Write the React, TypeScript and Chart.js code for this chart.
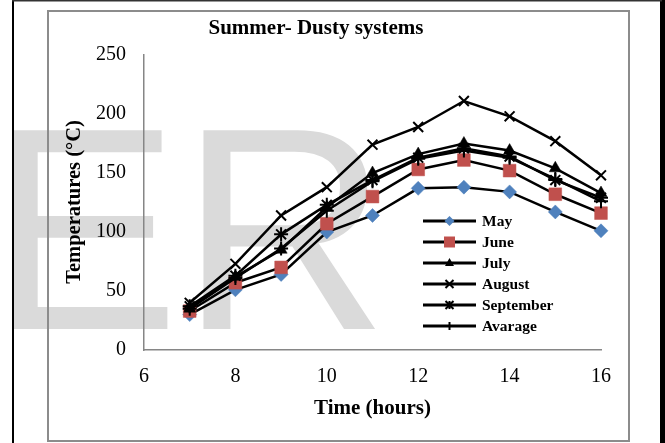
import React, { useEffect, useRef } from "react";
import { Chart, registerables } from "chart.js";

Chart.register(...registerables);

const hours = [7, 8, 9, 10, 11, 12, 13, 14, 15, 16];
const may = [30, 51, 64, 100, 114, 137, 138, 134, 117, 101];
const june = [33, 57, 70, 107, 130, 153, 161, 152, 132, 116];
const july = [35, 62, 85, 121, 150, 166, 175, 169, 154, 133];
const august = [40, 73, 114, 138, 174, 189, 211, 198, 177, 148];
const september = [37, 63, 98, 123, 144, 163, 171, 164, 144, 129];
const average = [35, 61, 86, 118, 143, 162, 169, 163, 145, 126];

const seriesNames = ["May", "June", "July", "August", "September", "Avarage"];
const seriesValues = [may, june, july, august, september, average];
const seriesStyles = ["rectRot", "rect", "triangle", "crossRot", "star", "cross"];
const seriesColors = ["#4F81BD", "#C0504D", "#000000", "#000000", "#000000", "#000000"];
const seriesRadius = [7, 9, 7, 7, 7, 7];

const chartTitle = "Summer- Dusty systems";
const xTitle = "Time (hours)";
const yTitle = "Temperatures (°C)";

const W = 665;
const H = 443;

function drawMarker(ctx: CanvasRenderingContext2D, style: string, x: number, y: number, r: number, color: string) {
  ctx.save();
  ctx.fillStyle = color;
  ctx.strokeStyle = color;
  ctx.lineWidth = 2;
  ctx.beginPath();
  if (style === "rectRot") {
    ctx.moveTo(x, y - r);
    ctx.lineTo(x + r, y);
    ctx.lineTo(x, y + r);
    ctx.lineTo(x - r, y);
    ctx.closePath();
    ctx.fill();
  } else if (style === "rect") {
    ctx.rect(x - r, y - r, 2 * r, 2 * r);
    ctx.fill();
  } else if (style === "triangle") {
    ctx.moveTo(x, y - r);
    ctx.lineTo(x + r * 0.9, y + r * 0.6);
    ctx.lineTo(x - r * 0.9, y + r * 0.6);
    ctx.closePath();
    ctx.fill();
  } else if (style === "crossRot") {
    ctx.moveTo(x - r, y - r);
    ctx.lineTo(x + r, y + r);
    ctx.moveTo(x + r, y - r);
    ctx.lineTo(x - r, y + r);
    ctx.stroke();
  } else if (style === "star") {
    ctx.moveTo(x - r, y - r);
    ctx.lineTo(x + r, y + r);
    ctx.moveTo(x + r, y - r);
    ctx.lineTo(x - r, y + r);
    ctx.moveTo(x, y - r);
    ctx.lineTo(x, y + r);
    ctx.stroke();
  } else if (style === "cross") {
    ctx.moveTo(x, y - r);
    ctx.lineTo(x, y + r);
    ctx.stroke();
  }
  ctx.restore();
}

const decorPlugin = {
  id: "decor",
  beforeDraw(chart: any) {
    const ctx: CanvasRenderingContext2D = chart.ctx;
    ctx.save();
    ctx.fillStyle = "#ffffff";
    ctx.fillRect(0, 0, W, H);
    // watermark
    ctx.save();
    ctx.beginPath();
    ctx.rect(14, 2, 646, H);
    ctx.clip();
    ctx.fillStyle = "#dadada";
    ctx.font = '289px "Liberation Sans"';
    ctx.textBaseline = "alphabetic";
    ctx.textAlign = "left";
    ctx.fillText("ER", -13, 329);
    ctx.restore();
    // outer frame
    ctx.fillStyle = "#000000";
    ctx.fillRect(12, 0, 2, H);
    ctx.fillRect(660, 0, 5, H);
    ctx.fillStyle = "#333333";
    ctx.fillRect(12, 0, 650, 1.5);
    // inner chart border
    ctx.strokeStyle = "#8c8c8c";
    ctx.lineWidth = 2;
    ctx.strokeRect(48, 11, 581, 430);
    ctx.restore();
  },
  afterDraw(chart: any) {
    const ctx: CanvasRenderingContext2D = chart.ctx;
    ctx.save();
    ctx.fillStyle = "#000000";
    ctx.textAlign = "center";
    ctx.textBaseline = "middle";
    ctx.font = 'bold 21px "Liberation Serif"';
    ctx.fillText(chartTitle, 316, 29);
    ctx.font = 'bold 21px "Liberation Serif"';
    ctx.textBaseline = "alphabetic";
    ctx.fillText(xTitle, 372.5, 414);
    ctx.save();
    ctx.translate(75, 202);
    ctx.rotate(-Math.PI / 2);
    ctx.textBaseline = "middle";
    ctx.font = 'bold 20.5px "Liberation Serif"';
    ctx.fillText(yTitle, 0, 0);
    ctx.restore();
    // legend
    const legendX0 = 423;
    const legendX1 = 476;
    const legendY0 = 221;
    const legendStep = 21;
    const legendR = [5, 5.5, 5, 4, 4, 4];
    ctx.font = 'bold 15.5px "Liberation Serif"';
    ctx.textAlign = "left";
    ctx.textBaseline = "middle";
    seriesNames.forEach((name, i) => {
      const y = legendY0 + i * legendStep;
      ctx.strokeStyle = "#000000";
      ctx.lineWidth = 3;
      ctx.beginPath();
      ctx.moveTo(legendX0, y);
      ctx.lineTo(legendX1, y);
      ctx.stroke();
      drawMarker(ctx, seriesStyles[i], (legendX0 + legendX1) / 2, y, legendR[i], seriesColors[i]);
      ctx.fillStyle = "#000000";
      ctx.fillText(name, 482, y + 1);
    });
    ctx.restore();
  },
};

export default function App() {
  const canvasRef = useRef<HTMLCanvasElement | null>(null);

  useEffect(() => {
    const canvas = canvasRef.current;
    if (!canvas) return;
    const n = seriesNames.length;
    const datasets = seriesNames.map((name, i) => ({
      label: name,
      data: hours.map((h, j) => ({ x: h, y: seriesValues[i][j] })),
      borderColor: "#000000",
      borderWidth: 2.5,
      backgroundColor: seriesColors[i],
      pointStyle: seriesStyles[i],
      pointRadius: seriesRadius[i],
      pointBackgroundColor: seriesColors[i],
      pointBorderColor: seriesColors[i],
      pointBorderWidth: i < 3 ? 0.5 : 2,
      tension: 0,
      fill: false,
      clip: false,
      order: n - i,
    }));
    const chart = new Chart(canvas, {
      type: "line",
      data: { datasets },
      options: {
        responsive: false,
        animation: false,
        devicePixelRatio: 1,
        layout: { padding: { left: 0, top: 55, right: W - 601, bottom: 0 } },
        plugins: {
          legend: { display: false },
          title: { display: false },
          tooltip: { enabled: false },
        },
        scales: {
          x: {
            type: "linear",
            min: 6,
            max: 16,
            ticks: {
              stepSize: 2,
              color: "#000000",
              padding: 15,
              font: { family: "Liberation Serif", size: 20 },
            },
            grid: { display: false, drawTicks: false },
            border: { display: true, color: "#868686", width: 1.5 },
            afterFit: (s: any) => {
              s.height = H - 350;
            },
          },
          y: {
            min: 0,
            max: 250,
            ticks: {
              stepSize: 50,
              color: "#000000",
              padding: 18,
              font: { family: "Liberation Serif", size: 20 },
            },
            grid: { display: false, drawTicks: false },
            border: { display: true, color: "#868686", width: 1.5 },
            afterFit: (s: any) => {
              s.width = 144;
            },
          },
        },
      },
      plugins: [decorPlugin],
    });
    return () => chart.destroy();
  }, []);

  return (
    <div style={{ position: "absolute", left: 0, top: 0, width: W, height: H, background: "#fff" }}>
      <canvas ref={canvasRef} width={W} height={H} style={{ display: "block", width: W, height: H }} />
    </div>
  );
}
